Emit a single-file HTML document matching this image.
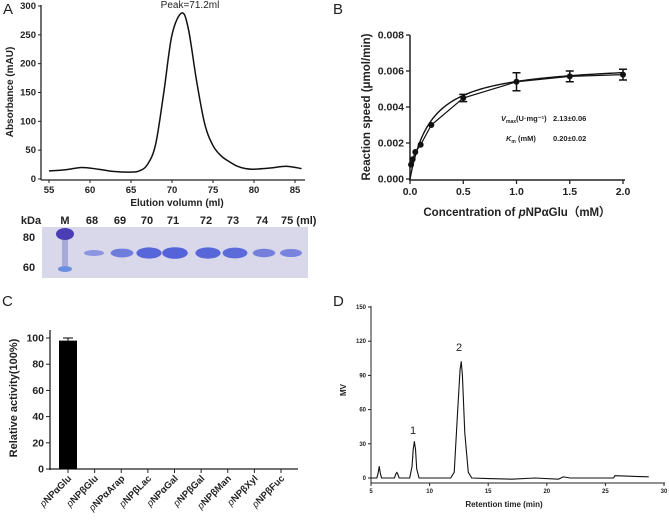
<!DOCTYPE html>
<html><head><meta charset="utf-8">
<style>
html,body{margin:0;padding:0;background:#fff;}
svg{display:block;font-family:"Liberation Sans",Arial,sans-serif;}
.t{font-size:9.5px;font-weight:bold;fill:#222;}
.lab{font-size:11px;font-weight:bold;fill:#222;}
.pl{font-size:15px;fill:#222;}
</style></head>
<body>
<svg id="fig" width="669" height="520" viewBox="0 0 669 520"></svg>
<script>
// ---------- DATA ----------
// Panel A: size exclusion chromatogram
const aVol = [55,57,59,61,63,65,66,67,68,69,70,71.2,72,73,74,75,76,77,78,79,80,82,84,85.8];
const aAbs = [14,16,20,17,13,12,14,25,60,150,250,288,260,170,95,58,40,30,22,18,17,19,22,18];
const aXTicks = [55,60,65,70,75,80,85];
const aYTicks = [0,50,100,150,200,250,300];
const gelLanes = ["M","68","69","70","71","72","73","74","75"];
const gelIntensity = [1,0.25,0.6,0.9,0.95,0.9,0.85,0.55,0.5];
// Panel B: kinetics
const bConc = [0.01,0.025,0.05,0.1,0.2,0.5,1.0,1.5,2.0];
const bRate = [0.0008,0.0011,0.0015,0.0019,0.0030,0.0045,0.0054,0.0057,0.0058];
const bErr = [0.0001,0.0001,0.0001,0.0001,0.0001,0.0002,0.0005,0.0003,0.0003];
const bVmax = 0.0065, bKm = 0.2;
const bXTicks = [0.0,0.5,1.0,1.5,2.0];
const bYTicks = [0,0.002,0.004,0.006,0.008];
// Panel C: substrate specificity
const cCats = ["NPαGlu","NPβGlu","NPαArap","NPβLac","NPαGal","NPβGal","NPβMan","NPβXyl","NPβFuc"];
const cVals = [98,0,0,0,0,0,0,0,0];
const cErrs = [2,0,0,0,0,0,0,0,0];
const cYTicks = [0,20,40,60,80,100];
// Panel D: HPLC
const dTime = [5,5.5,5.6,5.7,5.8,5.9,7.0,7.1,7.2,7.3,7.4,8.3,8.5,8.6,8.7,8.8,8.9,9.1,10,11.8,12.1,12.4,12.6,12.7,12.8,13.0,13.3,13.6,15,17,19,21,21.4,22,25.7,25.8,28.7];
const dMV = [0,0,4,10,4,0,0,3,5,3,0,0,10,25,32,25,8,0,0,0,5,60,95,102,90,40,5,0,-0.5,-1,0,-1,1,0,0,2,1];
const dXTicks = [5,10,15,20,25,30];
const dYTicks = [0,30,60,90,120,150];
const dYLabels = ["0","30","60","90","120","150"];

// ---------- HELPERS ----------
const svg = document.getElementById('fig');
const NS = 'http://www.w3.org/2000/svg';
function mk(tag, attrs, parent){const e=document.createElementNS(NS,tag);for(const k in attrs)e.setAttribute(k,attrs[k]);(parent||svg).appendChild(e);return e;}
function txt(x,y,s,cls,anchor,parent,extra){const e=mk('text',Object.assign({x:x,y:y,class:cls,'text-anchor':anchor||'middle'},extra||{}),parent);e.textContent=s;return e;}
function lin(d0,d1,r0,r1){return v=>r0+(v-d0)/(d1-d0)*(r1-r0);}
function smooth(pts){let d='M'+pts[0][0]+','+pts[0][1];for(let i=0;i<pts.length-1;i++){const p0=pts[i-1]||pts[i],p1=pts[i],p2=pts[i+1],p3=pts[i+2]||p2;const c1=[p1[0]+(p2[0]-p0[0])/6,p1[1]+(p2[1]-p0[1])/6],c2=[p2[0]-(p3[0]-p1[0])/6,p2[1]-(p3[1]-p1[1])/6];d+=' C'+c1[0]+','+c1[1]+' '+c2[0]+','+c2[1]+' '+p2[0]+','+p2[1];}return d;}

// ---------- PANEL A ----------
const gA = mk('g',{});


const ax = lin(55,85,49,295), ay = lin(0,300,179,6);
txt(3,14,'A','pl','start',gA);
txt(190,8,'Peak=71.2ml','t','middle',gA,{style:'font-weight:normal;font-size:10px'});
mk('path',{d:'M41,5V180M41,180H305',stroke:'#222','stroke-width':1.3,fill:'none'},gA);
aYTicks.forEach(v=>{mk('line',{x1:38,x2:41,y1:ay(v),y2:ay(v),stroke:'#222'},gA);txt(36,ay(v)+3,String(v),'t','end',gA);});
aXTicks.forEach(v=>{mk('line',{x1:ax(v),x2:ax(v),y1:180,y2:183,stroke:'#222'},gA);txt(ax(v),193,String(v),'t','middle',gA);});
txt(177,206,'Elution volumn (ml)','lab','middle',gA,{style:'font-size:10px'});
txt(13,92,'Absorbance (mAU)','lab','middle',gA,{transform:'rotate(-90 13 92)',style:'font-size:10px'});
const aLine = mk('path',{d:smooth(aVol.map((v,i)=>[ax(v),ay(aAbs[i])])),stroke:'#111','stroke-width':1.5,fill:'none'},gA);


// gel
const gel = mk('g',{},gA);


mk('rect',{x:42,y:227,width:266,height:51,fill:'#d8d8ea'},gel);
txt(31,224,'kDa','lab','middle',gA);
txt(29,241,'80','lab','middle',gA);
txt(29,271,'60','lab','middle',gA);
const laneX=[65,92,120,147,173,206,233,262,289];
gelLanes.forEach((l,i)=>{
  txt(laneX[i],224,l+(i===gelLanes.length-1?' (ml)':''),'lab',i===gelLanes.length-1?'start':'middle',gA,i===gelLanes.length-1?{x:laneX[i]-8}:{});
  if(i===0){
    mk('ellipse',{cx:65,cy:234,rx:9,ry:6,fill:'#4a3db5'},gel);
    mk('rect',{x:62,y:240,width:6,height:26,fill:'#a8a8da'},gel);
    mk('ellipse',{cx:65,cy:269,rx:7,ry:3,fill:'#6a8fe0'},gel);
  } else {
    const g=gelIntensity[i];
    mk('ellipse',{cx:laneX[i]+2,cy:253,rx:9+4*g,ry:2+4*g,fill:'#4f5fd8','fill-opacity':0.4+0.6*g},gel);
  }
});

// ---------- PANEL B ----------
const gB = mk('g',{});


const bx = lin(0,2,410,623), by = lin(0,0.008,179,35);
txt(333,14,'B','pl','start',gB);
mk('path',{d:'M410,35V180M409,180H625',stroke:'#222','stroke-width':1.5,fill:'none'},gB);
bYTicks.forEach(v=>{mk('line',{x1:406,x2:410,y1:by(v),y2:by(v),stroke:'#222','stroke-width':1.3},gB);txt(404,by(v)+3.5,v.toFixed(3),'t','end',gB,{style:'font-size:10.5px'});});
bXTicks.forEach(v=>{mk('line',{x1:bx(v),x2:bx(v),y1:180,y2:184,stroke:'#222','stroke-width':1.3},gB);txt(bx(v),195,v.toFixed(1),'t','middle',gB,{style:'font-size:10.5px'});});
const bxl=txt(517,216,'','lab','middle',gB,{style:'font-size:11.5px'});
bxl.innerHTML='Concentration of <tspan font-style="italic">p</tspan>NPαGlu（mM）';
txt(370,107,'Reaction speed (μmol/min)','lab','middle',gB,{transform:'rotate(-90 370 107)',style:'font-size:11.5px'});
let fitPts=[];for(let c=0;c<=2.0001;c+=0.02){fitPts.push([bx(c),by(bVmax*c/(bKm+c))]);}
const fit=mk('path',{d:'M'+fitPts.map(p=>p.join(',')).join('L'),stroke:'#111','stroke-width':1.4,fill:'none'},gB);


const conn=mk('path',{d:'M'+bConc.map((c,i)=>bx(c)+','+by(bRate[i])).join('L'),stroke:'#111','stroke-width':1.2,fill:'none'},gB);


bConc.forEach((c,i)=>{
  const x=bx(c),y=by(bRate[i]),e=by(bRate[i]+bErr[i]),e2=by(bRate[i]-bErr[i]);
  if(bErr[i]>0.00015){mk('path',{d:`M${x},${e}V${e2}M${x-4},${e}H${x+4}M${x-4},${e2}H${x+4}`,stroke:'#111','stroke-width':1.5,fill:'none'},gB);}
  const p=mk('circle',{cx:x,cy:y,r:3,fill:'#111'},gB);
  
  
});
const vt=txt(501,121,'','t','start',gB,{style:'font-size:7.5px'});
vt.innerHTML='<tspan font-style="italic">V</tspan><tspan font-size="5" dy="2">max</tspan><tspan dy="-2">(U·mg⁻¹)</tspan>';
txt(553,121,'2.13±0.06','t','start',gB,{style:'font-size:7.5px'});
const kt=txt(506,141,'','t','start',gB,{style:'font-size:7.5px'});
kt.innerHTML='<tspan font-style="italic">K</tspan><tspan font-size="5" dy="2">m</tspan><tspan dy="-2"> (mM)</tspan>';
txt(553,141,'0.20±0.02','t','start',gB,{style:'font-size:7.5px'});

// ---------- PANEL C ----------
const gC = mk('g',{});


const cy = lin(0,100,469,338);
const cx0=68, cstep=(281-68)/8;
txt(2,306,'C','pl','start',gC);
mk('path',{d:'M50,330V470M49,469H298',stroke:'#222','stroke-width':1.3,fill:'none'},gC);
cYTicks.forEach(v=>{mk('line',{x1:46,x2:50,y1:cy(v),y2:cy(v),stroke:'#222'},gC);txt(44,cy(v)+3.5,String(v),'t','end',gC,{style:'font-size:10.5px'});});
txt(17,398,'Relative activity(100%)','lab','middle',gC,{transform:'rotate(-90 17 398)',style:'font-size:11px'});
cCats.forEach((c,i)=>{
  const x=cx0+i*cstep;
  mk('line',{x1:x,x2:x,y1:469,y2:473,stroke:'#222'},gC);
  const l=txt(x+4,479,'','t','end',gC,{transform:`rotate(-45 ${x+4} 479)`,style:'font-size:9.5px'});
  l.innerHTML='<tspan font-style="italic" font-weight="normal">p</tspan>'+c;
  if(cVals[i]>0){
    const b=mk('rect',{x:x-9,y:cy(cVals[i]),width:18,height:469-cy(cVals[i]),fill:'#000'},gC);
    
    
    mk('path',{d:`M${x},${cy(cVals[i])}V${cy(cVals[i]+cErrs[i])}M${x-5},${cy(cVals[i]+cErrs[i])}H${x+5}`,stroke:'#000','stroke-width':1},gC);
  }
});

// ---------- PANEL D ----------
const gD = mk('g',{});


const dx = lin(5,30,371,664), dy = lin(0,150,478,307);
txt(333,306,'D','pl','start',gD);
mk('path',{d:'M371,306V483M371,483H665',stroke:'#222','stroke-width':1,fill:'none'},gD);
dYTicks.forEach((v,i)=>{mk('line',{x1:368,x2:371,y1:dy(v),y2:dy(v),stroke:'#222'},gD);txt(366,dy(v)+2,dYLabels[i],'t','end',gD,{style:'font-size:6px'});});
dXTicks.forEach(v=>{mk('line',{x1:dx(v),x2:dx(v),y1:483,y2:486,stroke:'#222'},gD);txt(dx(v),493,String(v),'t','middle',gD,{style:'font-size:6px'});});
txt(504,507,'Retention time (min)','lab','middle',gD,{style:'font-size:8px'});
txt(346,390,'MV','lab','middle',gD,{transform:'rotate(-90 346 390)',style:'font-size:8px'});
const dl=mk('path',{d:'M'+dTime.map((t,i)=>dx(t)+','+dy(dMV[i])).join('L'),stroke:'#111','stroke-width':1.1,fill:'none','stroke-linejoin':'round'},gD);


txt(413,434,'1','t','middle',gD,{style:'font-weight:normal;font-size:11px'});
txt(459,351,'2','t','middle',gD,{style:'font-weight:normal;font-size:11px'});
</script>
</body></html>
